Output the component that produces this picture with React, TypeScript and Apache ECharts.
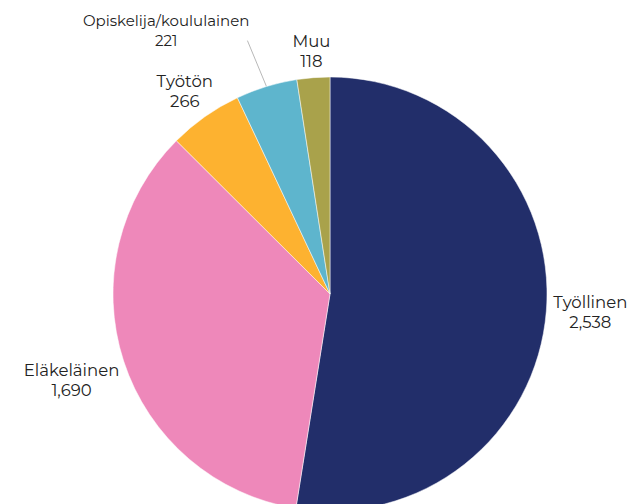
import React, { useEffect, useRef } from "react";
import * as echarts from "echarts";

const names = ["Työllinen", "Eläkeläinen", "Työtön", "Opiskelija/koululainen", "Muu"];
const values = [2538, 1690, 266, 221, 118];
const colors = ["#222E6A", "#EE88BA", "#FDB230", "#5EB5CD", "#A9A24B"];

const CX = 330;
const CY = 294;
const R = 217;

export default function App() {
  const ref = useRef<HTMLDivElement>(null);
  useEffect(() => {
    document.body.style.margin = "0";
    const chart = echarts.init(ref.current!, null, { renderer: "svg" });
    const total = values.reduce((a, b) => a + b, 0);
    const midDir = (i: number) => {
      let cum = 0;
      for (let k = 0; k < i; k++) cum += values[k];
      const a = ((cum + values[i] / 2) / total) * Math.PI * 2;
      return [Math.sin(a), -Math.cos(a)];
    };
    chart.setOption({
      animation: false,
      backgroundColor: "#fff",
      series: [
        {
          type: "pie",
          center: [CX, CY],
          radius: [0, R],
          startAngle: 90,
          clockwise: true,
          avoidLabelOverlap: false,
          itemStyle: { borderColor: "#fff", borderWidth: 0.5 },
          label: {
            show: true,
            position: "outside",
            color: "#222",
            fontFamily: "Montserrat, 'Open Sans', sans-serif",
            fontSize: 16.5,
            lineHeight: 20,
            align: "center",
            formatter: (p: any) => p.name + "\n" + Number(p.value).toLocaleString("en-US"),
          },
          labelLine: { show: false },
          labelLayout: (p: any) => {
            const i = p.dataIndex;
            const [dx, dy] = midDir(i);
            const w = p.labelRect.width;
            const h = p.labelRect.height;
            if (i === 3) {
              const ex = CX + dx * (R + 48) - 5;
              const ey = CY + dy * (R + 48);
              return {
                x: ex - w / 2 + 2,
                y: ey - 10,
                align: "center",
                verticalAlign: "middle",
                labelLinePoints: [
                  [CX + dx * R, CY + dy * R],
                  [ex, ey],
                  [ex, ey],
                ],
              };
            }
            const ax = CX + dx * (R + 7);
            const ay = CY + dy * (R + 7);
            const fy = Math.sign(dy) * Math.min(1, Math.max(0, (Math.abs(dy) - 0.1) * 4));
            return {
              x: ax + (dx * w) / 2,
              y: ay + (fy * h) / 2,
              align: "center",
              verticalAlign: "middle",
            };
          },
          data: names.map((n, i) => ({
            name: n,
            value: values[i],
            itemStyle: { color: colors[i] },
            ...(i === 3
              ? {
                  label: { fontSize: 15 },
                  labelLine: { show: true, length: 48, length2: 0, lineStyle: { color: "#999", width: 0.7 } },
                }
              : {}),
          })),
        },
      ],
    });
    return () => chart.dispose();
  }, []);
  return <div ref={ref} style={{ width: 640, height: 504 }} />;
}
